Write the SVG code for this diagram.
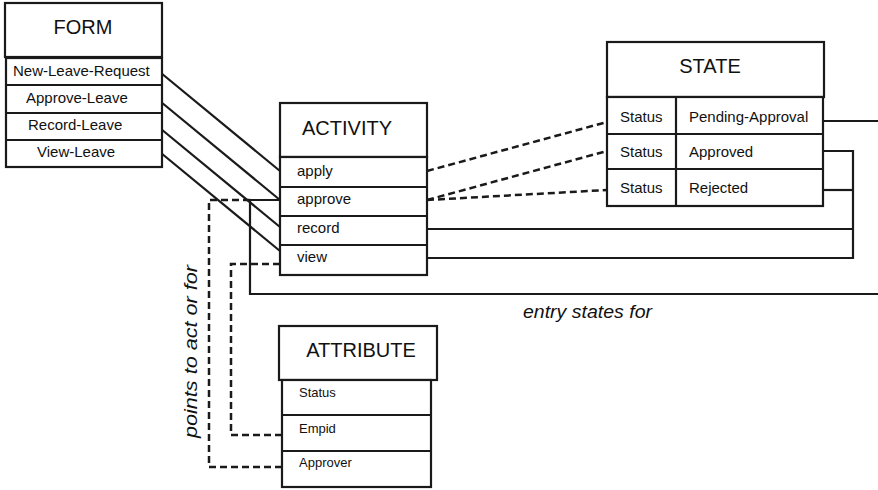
<svg xmlns="http://www.w3.org/2000/svg" width="878" height="490" viewBox="0 0 878 490">
<style>
  .box { fill: #fff; stroke: #1a1a1a; stroke-width: 2.2; }
  .ln { fill: none; stroke: #1a1a1a; stroke-width: 2.2; }
  .dash { fill: none; stroke: #1a1a1a; stroke-width: 2.5; stroke-dasharray: 7 4; }
  .title { font-family: "Liberation Sans", Arial, sans-serif; font-size: 20px; fill: #111; }
  .row { font-family: "Liberation Sans", Arial, sans-serif; font-size: 15px; fill: #111; }
  .small { font-family: "Liberation Sans", Arial, sans-serif; font-size: 13px; fill: #111; }
  .lbl { font-family: "Liberation Sans", Arial, sans-serif; font-size: 18px; font-style: italic; fill: #111; }
</style>
<rect width="878" height="490" fill="#fff"/>

<g id="connectors">
  <line class="ln" x1="161" y1="73" x2="280" y2="171"/>
  <line class="ln" x1="161" y1="102" x2="280" y2="200"/>
  <line class="ln" x1="161" y1="129" x2="280" y2="227"/>
  <line class="ln" x1="161" y1="153" x2="280" y2="251"/>
  <line class="ln" x1="823" y1="121" x2="878" y2="121"/>
  <polyline class="ln" points="823,151 853,151 853,258 427,258"/>
  <line class="ln" x1="823" y1="190" x2="853" y2="190"/>
  <line class="ln" x1="427" y1="229" x2="853" y2="229"/>
  <polyline class="ln" points="280,200 250,200 250,294 878,294"/>
  <line class="dash" x1="427" y1="171" x2="607" y2="122"/>
  <line class="dash" x1="427" y1="200" x2="607" y2="151"/>
  <line class="dash" x1="427" y1="200" x2="607" y2="190"/>
  <polyline class="dash" points="250,200 209,200 209,467 282,467"/>
  <polyline class="dash" points="280,264 231,264 231,435 282,435"/>
  <text class="lbl" x="523" y="318" textLength="129" lengthAdjust="spacingAndGlyphs">entry states for</text>
  <text class="lbl" transform="translate(197,438) rotate(-90)" x="0" y="0" textLength="173" lengthAdjust="spacingAndGlyphs">points to act or for</text>
</g>

<g id="form">
  <rect class="box" x="5" y="3" width="157" height="54"/>
  <text class="title" x="83" y="34" text-anchor="middle">FORM</text>
  <rect class="box" x="6" y="58" width="156" height="109"/>
  <line class="ln" x1="6" y1="85" x2="162" y2="85"/>
  <line class="ln" x1="6" y1="113" x2="162" y2="113"/>
  <line class="ln" x1="6" y1="140" x2="162" y2="140"/>
  <text class="row" x="13" y="76">New-Leave-Request</text>
  <text class="row" x="26" y="103">Approve-Leave</text>
  <text class="row" x="28" y="130">Record-Leave</text>
  <text class="row" x="37" y="157">View-Leave</text>
</g>

<g id="activity">
  <rect class="box" x="280" y="103" width="147" height="54"/>
  <text class="title" x="347" y="135" text-anchor="middle">ACTIVITY</text>
  <rect class="box" x="280" y="157" width="147" height="118"/>
  <line class="ln" x1="280" y1="187" x2="427" y2="187"/>
  <line class="ln" x1="280" y1="216" x2="427" y2="216"/>
  <line class="ln" x1="280" y1="245" x2="427" y2="245"/>
  <text class="row" x="297" y="176">apply</text>
  <text class="row" x="297" y="204">approve</text>
  <text class="row" x="297" y="233">record</text>
  <text class="row" x="297" y="262">view</text>
</g>

<g id="state">
  <rect class="box" x="607" y="42" width="217" height="55"/>
  <text class="title" x="710" y="73" text-anchor="middle">STATE</text>
  <rect class="box" x="607" y="97" width="216" height="109"/>
  <line class="ln" x1="607" y1="134" x2="823" y2="134"/>
  <line class="ln" x1="607" y1="169" x2="823" y2="169"/>
  <line class="ln" x1="676" y1="97" x2="676" y2="206"/>
  <text class="row" x="620" y="122">Status</text>
  <text class="row" x="620" y="157">Status</text>
  <text class="row" x="620" y="193">Status</text>
  <text class="row" x="689" y="122">Pending-Approval</text>
  <text class="row" x="689" y="157">Approved</text>
  <text class="row" x="689" y="193">Rejected</text>
</g>

<g id="attribute">
  <rect class="box" x="279" y="326" width="158" height="54"/>
  <text class="title" x="361" y="357" text-anchor="middle">ATTRIBUTE</text>
  <rect class="box" x="282" y="380" width="149" height="107"/>
  <line class="ln" x1="282" y1="415" x2="431" y2="415"/>
  <line class="ln" x1="282" y1="451" x2="431" y2="451"/>
  <text class="small" x="299" y="397">Status</text>
  <text class="small" x="299" y="433">Empid</text>
  <text class="small" x="299" y="467">Approver</text>
</g>
</svg>
